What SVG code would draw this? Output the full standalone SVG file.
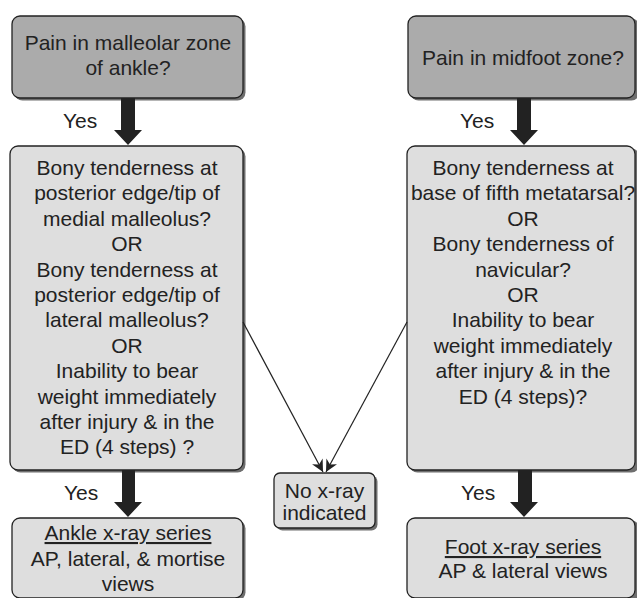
<svg xmlns="http://www.w3.org/2000/svg" width="637" height="598" viewBox="0 0 637 598">
<style>
.shadow{fill:#6e6e6e;}
.dark{fill:#ababab;stroke:#222;stroke-width:1.3;}
.light{fill:#dedede;stroke:#222;stroke-width:1.3;}
text{font-family:"Liberation Sans",Arial,sans-serif;font-size:21px;fill:#222;text-anchor:middle;}
.lbl{text-anchor:start;}
.thick{fill:#222;}
.thin{stroke:#222;stroke-width:1.2;fill:none;}
</style>
<defs>
<marker id="ah" viewBox="0 0 10 10" refX="10" refY="5" markerWidth="14" markerHeight="12" markerUnits="userSpaceOnUse" orient="auto">
<path d="M0,0 L10,5 L0,10 L3,5 Z" fill="#222"/>
</marker>
</defs>
<rect width="637" height="598" fill="#fff"/>

<g id="n1">
<rect class="shadow" x="14.5" y="18.5" width="231" height="82" rx="8"/>
<rect class="dark" x="12" y="16" width="231" height="82" rx="8"/>
<text x="128" y="50">Pain in malleolar zone</text>
<text x="128" y="75">of ankle?</text>
</g>

<g id="n2">
<rect class="shadow" x="410.5" y="18.5" width="229" height="82" rx="8"/>
<rect class="dark" x="408" y="16" width="227" height="82" rx="8"/>
<text x="523" y="65">Pain in midfoot zone?</text>
</g>

<g id="n3">
<rect class="shadow" x="12.5" y="148.5" width="233" height="324" rx="8"/>
<rect class="light" x="10" y="146" width="233" height="324" rx="8"/>
<text x="127" y="175">Bony tenderness at</text>
<text x="127" y="200.4">posterior edge/tip of</text>
<text x="127" y="225.8">medial malleolus?</text>
<text x="127" y="251.2">OR</text>
<text x="127" y="276.6">Bony tenderness at</text>
<text x="127" y="302">posterior edge/tip of</text>
<text x="127" y="327.4">lateral malleolus?</text>
<text x="127" y="352.8">OR</text>
<text x="127" y="378.2">Inability to bear</text>
<text x="127" y="403.6">weight immediately</text>
<text x="127" y="429">after injury &amp; in the</text>
<text x="127" y="454.4">ED (4 steps) ?</text>
</g>

<g id="n4">
<rect class="shadow" x="409.5" y="148.5" width="230" height="324" rx="8"/>
<rect class="light" x="407" y="146" width="228" height="324" rx="8"/>
<text x="523" y="175">Bony tenderness at</text>
<text x="523" y="200.4">base of fifth metatarsal?</text>
<text x="523" y="225.8">OR</text>
<text x="523" y="251.2">Bony tenderness of</text>
<text x="523" y="276.6">navicular?</text>
<text x="523" y="302">OR</text>
<text x="523" y="327.4">Inability to bear</text>
<text x="523" y="352.8">weight immediately</text>
<text x="523" y="378.2">after injury &amp; in the</text>
<text x="523" y="403.6">ED (4 steps)?</text>
</g>

<g id="n5">
<rect class="shadow" x="276.5" y="475.5" width="101" height="55" rx="6"/>
<rect class="light" x="274" y="473" width="101" height="55" rx="6"/>
<text x="324.5" y="498">No x-ray</text>
<text x="324.5" y="520">indicated</text>
</g>

<g id="n6">
<rect class="shadow" x="14.5" y="520.5" width="231" height="80" rx="8"/>
<rect class="light" x="12" y="518" width="231" height="80" rx="8"/>
<text x="128" y="540" text-decoration="underline">Ankle x-ray series</text>
<text x="128" y="566">AP, lateral, &amp; mortise</text>
<text x="128" y="591">views</text>
</g>

<g id="n7">
<rect class="shadow" x="409.5" y="520.5" width="230" height="80" rx="8"/>
<rect class="light" x="407" y="518" width="228" height="80" rx="8"/>
<text x="523" y="554" text-decoration="underline">Foot x-ray series</text>
<text x="523" y="578">AP &amp; lateral views</text>
</g>

<g id="connectors">
<path class="thick" d="M121,98 H135 V130 H142 L128,145 L114,130 H121 Z"/>
<path class="thick" d="M517,98 H531 V130 H538 L524,145 L510,130 H517 Z"/>
<path class="thick" d="M122,470 H135 V502 H142 L128,517 L114,502 H122 Z"/>
<path class="thick" d="M518,470 H532 V502 H538 L524,517 L510,502 H518 Z"/>
<line class="thin" x1="243" y1="322" x2="323" y2="472" marker-end="url(#ah)"/>
<line class="thin" x1="407" y1="322" x2="326" y2="472" marker-end="url(#ah)"/>
<text class="lbl" x="63" y="128">Yes</text>
<text class="lbl" x="460" y="128">Yes</text>
<text class="lbl" x="64" y="500">Yes</text>
<text class="lbl" x="461" y="500">Yes</text>
</g>
</svg>
